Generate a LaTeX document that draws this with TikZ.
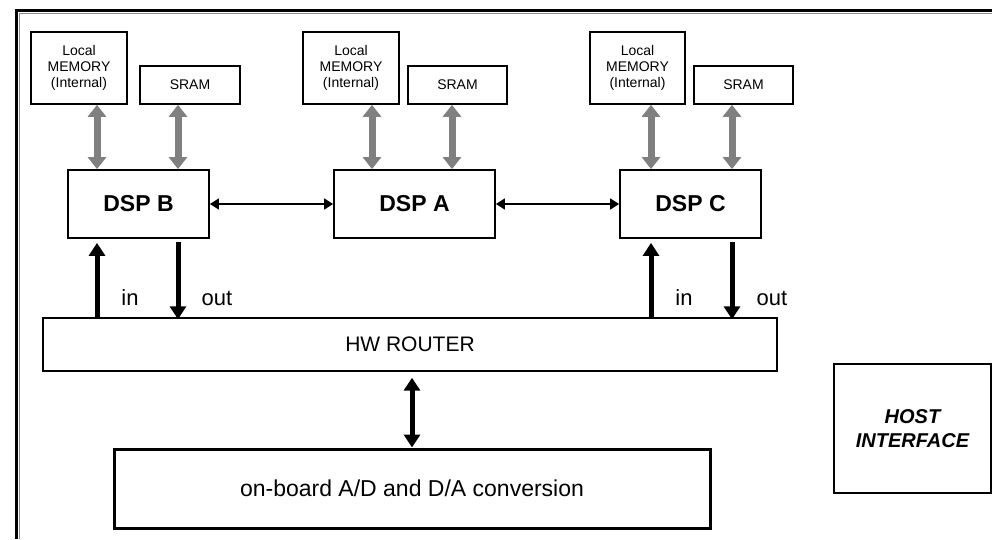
\documentclass[tikz,border=0pt]{standalone}
\usepackage{fontspec}
\setmainfont{Liberation Sans}
\usepackage{tikz}
\usetikzlibrary{arrows.meta, positioning, calc}
\usepackage{xcolor}
\definecolor{busgray}{rgb}{0.5, 0.5, 0.5}
\definecolor{framegray}{rgb}{0.55, 0.55, 0.55}

\begin{document}
\begin{tikzpicture}[x=1pt, y=-1pt,
		membox/.style={draw, line width=1.6pt, inner sep=0pt, minimum width=96pt, minimum height=72pt, align=center, font=\fontsize{14}{16}\selectfont},
		srambox/.style={draw, line width=1.6pt, inner sep=0pt, minimum width=100pt, minimum height=38pt, font=\fontsize{14}{16}\selectfont},
		dspbox/.style={draw, line width=1.8pt, inner sep=0pt, minimum width=141pt, minimum height=68pt, font=\fontsize{23}{26}\selectfont\bfseries},
		routerbox/.style={draw, line width=1.4pt, inner sep=0pt, minimum width=734pt, minimum height=53pt, font=\fontsize{21}{24}\selectfont},
		addabox/.style={draw, line width=3pt, inner sep=0pt, minimum width=596pt, minimum height=79pt, font=\fontsize{23}{26}\selectfont},
		hostbox/.style={draw, line width=1.6pt, inner sep=0pt, minimum width=157pt, minimum height=129pt, align=center, font=\fontsize{20}{24}\selectfont\bfseries\itshape},
		iolabel/.style={anchor=base, inner sep=0pt, font=\fontsize{22}{24}\selectfont},
		membus/.style={{Triangle[width=18pt, length=12pt]}-{Triangle[width=18pt, length=12pt]}, line width=7pt, busgray},
		iobus/.style={-{Triangle[width=16pt, length=13pt]}, line width=5pt, black},
		iobusboth/.style={{Triangle[width=16pt, length=13pt]}-{Triangle[width=16pt, length=13pt]}, line width=5pt, black},
		dsplink/.style={{Triangle[width=11pt, length=9pt]}-{Triangle[width=11pt, length=9pt]}, line width=1.5pt, black}
	]
	\useasboundingbox (0,0) rectangle (992,539);

	% --- Frame ---
	\draw[line width=3pt] (16.5,539) -- (16.5,10.5) -- (992,10.5);
	\draw[line width=1.2pt, framegray] (19.8,539) -- (19.8,13.6) -- (992,13.6);

	% --- Memories (y = 68 / 85) ---
	\node[membox] (memB) at (79,68) {Local\\MEMORY\\(Internal)};
	\node[srambox] (sramB) at (190,85) {SRAM};

	\node[membox] (memA) at (351,68) {Local\\MEMORY\\(Internal)};
	\node[srambox, minimum width=99pt] (sramA) at (457.5,85) {SRAM};

	\node[membox, minimum width=95pt] (memC) at (637.5,68) {Local\\MEMORY\\(Internal)};
	\node[srambox, minimum width=99pt] (sramC) at (743.5,85) {SRAM};

	% --- DSPs (y = 204) ---
	\node[dspbox] (dspB) at (138.5,204) {DSP B};
	\node[dspbox, minimum width=161pt] (dspA) at (414.5,204) {DSP A};
	\node[dspbox] (dspC) at (690.5,204) {DSP C};

	% --- Router, converter and host ---
	\node[routerbox] (router) at (410,344.5) {HW ROUTER};
	\node[addabox] (adda) at (412,488.5) {on-board A/D and D/A conversion};
	\node[hostbox] (host) at (912.5,428.5) {HOST\\INTERFACE};

	% --- Bus positions ---
	\coordinate (bL) at (97,0);
	\coordinate (bR) at (178,0);
	\coordinate (aL) at (372,0);
	\coordinate (aR) at (452,0);
	\coordinate (cL) at (651,0);
	\coordinate (cR) at (732,0);

	% --- Connections ---
	\draw[membus] (memB.south -| bL) -- (dspB.north -| bL);
	\draw[membus] (sramB.south -| bR) -- (dspB.north -| bR);
	\draw[membus] (memA.south -| aL) -- (dspA.north -| aL);
	\draw[membus] (sramA.south -| aR) -- (dspA.north -| aR);
	\draw[membus] (memC.south -| cL) -- (dspC.north -| cL);
	\draw[membus] (sramC.south -| cR) -- (dspC.north -| cR);

	\draw[dsplink] (dspB.east) -- (dspA.west);
	\draw[dsplink] (dspA.east) -- (dspC.west);

	\draw[iobus, shorten >=4pt] (router.north -| bL) -- (dspB.south -| bL);
	\draw[iobus, shorten <=3pt] (dspB.south -| bR) -- ([yshift=-2pt]router.north -| bR);
	\draw[iobus, shorten >=4pt] (router.north -| cL) -- (dspC.south -| cL);
	\draw[iobus, shorten <=3pt] (dspC.south -| cR) -- ([yshift=-2pt]router.north -| cR);

	\draw[iobusboth, shorten <=6pt] (router.south -| adda.north) -- (adda.north);

	% --- Labels ---
	\node[iolabel] (inB) at (130,305) {in};
	\node[iolabel] (outB) at (217,305) {out};
	\node[iolabel] (inC) at (684,305) {in};
	\node[iolabel] (outC) at (772,305) {out};
\end{tikzpicture}
\end{document}
